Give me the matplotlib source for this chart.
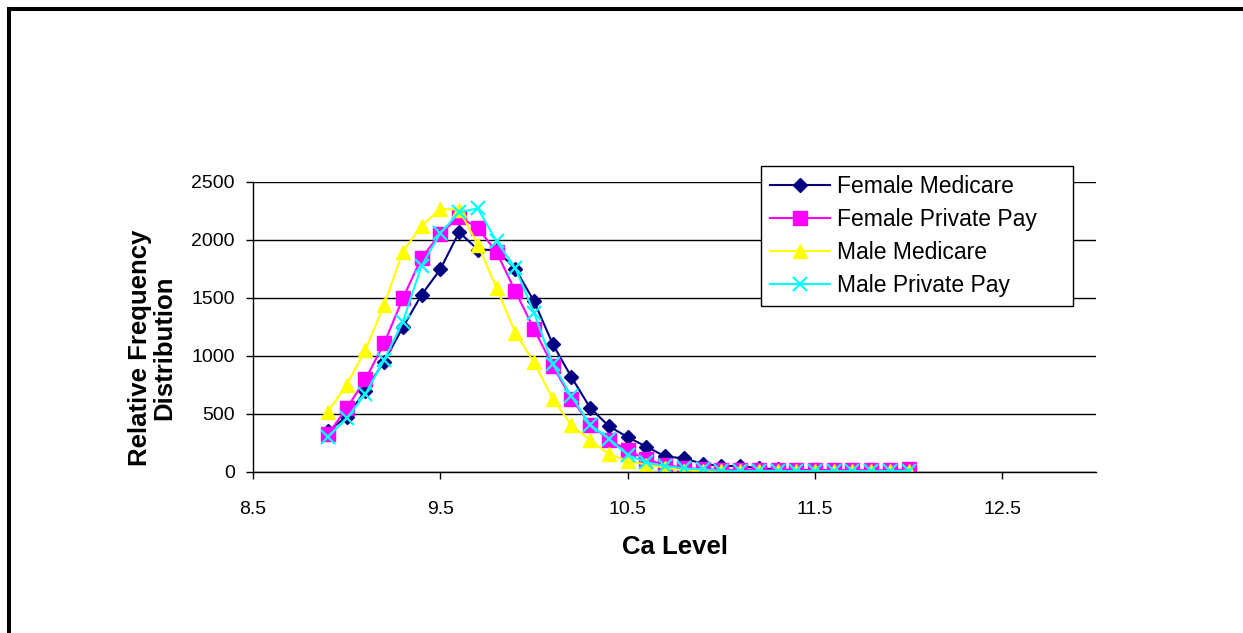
import numpy as np
import matplotlib
matplotlib.use('Agg')
import matplotlib.pyplot as plt
from matplotlib.patches import Rectangle

plt.rcParams['font.family'] = ['Liberation Sans', 'DejaVu Sans']

# Ca level 8.9 .. 12.0 in steps of 0.1
ca_level = [8.9, 9.0, 9.1, 9.2, 9.3, 9.4, 9.5, 9.6, 9.7, 9.8, 9.9, 10.0,
            10.1, 10.2, 10.3, 10.4, 10.5, 10.6, 10.7, 10.8, 10.9, 11.0,
            11.1, 11.2, 11.3, 11.4, 11.5, 11.6, 11.7, 11.8, 11.9, 12.0]

female_medicare = [350, 474, 700, 950, 1245, 1525, 1745, 2065, 1915, 1910, 1750, 1470,
                   1100, 815, 550, 392, 298, 215, 132, 115, 68, 50,
                   48, 30, 20, 15, 12, 10, 8, 8, 6, 10]
female_private = [322, 546, 796, 1106, 1494, 1845, 2050, 2200, 2100, 1894, 1557, 1229,
                  914, 629, 406, 275, 183, 107, 58, 35, 20, 15,
                  15, 14, 13, 12, 12, 12, 12, 12, 12, 20]
male_medicare = [517, 747, 1049, 1437, 1897, 2120, 2265, 2260, 1957, 1586, 1200, 943,
                 629, 400, 271, 151, 95, 60, 35, 10, 6, 5,
                 5, 4, 4, 3, 3, 3, 3, 3, 3, 3]
male_private = [302, 460, 670, 963, 1293, 1775, 2055, 2235, 2270, 1986, 1757, 1371,
                929, 649, 406, 284, 145, 80, 49, 29, 20, 8,
                6, 5, 5, 5, 4, 4, 4, 4, 4, 10]

x_ticks = [8.5, 9.5, 10.5, 11.5, 12.5]
y_ticks = [0, 500, 1000, 1500, 2000, 2500]

fig = plt.figure(figsize=(12.43, 6.33), dpi=100)
ax = fig.add_axes([253 / 1243, 1 - 471.7 / 633, (1096 - 253) / 1243, 290 / 633])

# outer frame (only top and left edges fall inside the picture)
fig.patches.append(Rectangle((9.3 / 1243, -0.2), 1.3, 1.2 - 9.3 / 633, transform=fig.transFigure,
                             fill=False, edgecolor='black', linewidth=2.9, clip_on=False))

ax.plot(ca_level, female_medicare, color='#000080', lw=1.5, marker='D', ms=7.5,
        label='Female Medicare')
ax.plot(ca_level, female_private, color='#FF00FF', lw=1.5, marker='s', ms=9.5,
        label='Female Private Pay')
ax.plot(ca_level, male_medicare, color='#FFFF00', lw=1.5, marker='^', ms=10.5,
        label='Male Medicare')
ax.plot(ca_level, male_private, color='#00FFFF', lw=1.5, marker='x', ms=9.5, mew=1.6,
        label='Male Private Pay')

ax.set_xlim(8.5, 13.0)
ax.set_ylim(0, 2500)
ax.set_xticks(x_ticks)
ax.set_xticklabels([str(t) for t in x_ticks])
ax.set_yticks(y_ticks)
ax.yaxis.grid(True, color='black', lw=1)
ax.set_axisbelow(True)
for s in ['top', 'right']:
    ax.spines[s].set_visible(False)
ax.spines['left'].set_linewidth(1)
ax.spines['bottom'].set_linewidth(1)
ax.tick_params(axis='both', direction='out', length=5, width=1, labelsize=14)
ax.tick_params(axis='x', pad=16)
ax.tick_params(axis='y', pad=8)

ax.set_xlabel('Ca Level', fontsize=18.5, fontweight='bold', labelpad=12)
fig.text(152 / 1243, 1 - 348 / 633, 'Relative Frequency\nDistribution', rotation=90,
         ha='center', va='center', fontsize=18.5, fontweight='bold', linespacing=1.0)

leg = ax.legend(loc='upper left', bbox_to_anchor=(0.6026, 1.054, 0.3701, 0.0),
                mode='expand', fontsize=16.5,
                frameon=True, fancybox=False, framealpha=1, edgecolor='black',
                borderpad=0.4, labelspacing=0.43, handlelength=2.6, handletextpad=0.3,
                borderaxespad=0)
leg.get_frame().set_linewidth(1)

fig.savefig('out.png', dpi=100)
